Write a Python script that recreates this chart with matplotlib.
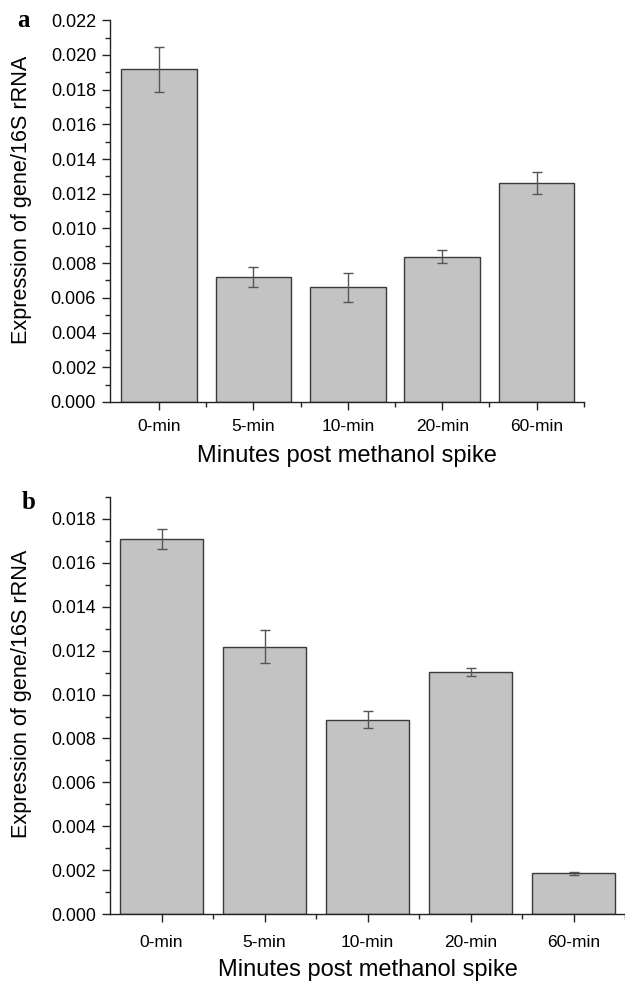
import matplotlib
matplotlib.use("Agg")
import matplotlib.pyplot as plt
from matplotlib.ticker import MultipleLocator, FixedLocator, FormatStrFormatter

plt.rcParams["font.family"] = ["Liberation Sans", "DejaVu Sans"]

# ---------------------------------------------------------------------------
# Data
# ---------------------------------------------------------------------------
categories = ["0-min", "5-min", "10-min", "20-min", "60-min"]

a_values = [0.01918, 0.00722, 0.00662, 0.00837, 0.01262]
a_errors = [0.00130, 0.00057, 0.00084, 0.00038, 0.00062]

b_values = [0.01709, 0.01217, 0.00886, 0.01104, 0.00186]
b_errors = [0.00047, 0.00075, 0.00037, 0.00018, 0.00007]

BAR_COLOR = "#c3c3c3"
EDGE_COLOR = "#3a3a3a"
AXIS_COLOR = "#222222"


def draw_panel(ax, values, errors, ymax, letter, letter_xy, ylabel_x,
               ytick_fs, xtick_pad, xlabel_pad):
    x = list(range(len(categories)))
    ax.bar(x, values, width=0.8, color=BAR_COLOR, edgecolor=EDGE_COLOR,
           linewidth=1.0, zorder=2)
    ax.errorbar(x, values, yerr=errors, fmt="none", ecolor="#555555",
                elinewidth=1.0, capsize=3.5, capthick=1.0, zorder=3)

    ax.set_ylim(0, ymax)
    ax.yaxis.set_major_locator(MultipleLocator(0.002))
    ax.yaxis.set_minor_locator(MultipleLocator(0.001))
    ax.yaxis.set_major_formatter(FormatStrFormatter("%.3f"))
    ax.set_xticks(x)
    ax.set_xticklabels(categories, fontsize=12.5)
    ax.xaxis.set_minor_locator(FixedLocator([i + 0.5 for i in x]))

    for side in ("top", "right"):
        ax.spines[side].set_visible(False)
    for side in ("left", "bottom"):
        ax.spines[side].set_linewidth(1.0)
        ax.spines[side].set_color(AXIS_COLOR)

    ax.tick_params(axis="both", which="major", direction="out", length=6,
                   width=1.0, color=AXIS_COLOR)
    ax.tick_params(axis="both", which="minor", direction="out", length=3.5,
                   width=1.0, color=AXIS_COLOR)
    ax.tick_params(axis="y", labelsize=ytick_fs, pad=4)
    ax.tick_params(axis="x", pad=xtick_pad)

    # label sits a little above the axes centre in the reference
    ax.set_ylabel("Expression of gene/16S rRNA", fontsize=15.6)
    ax.yaxis.set_label_coords(ylabel_x, 0.529)
    ax.set_xlabel("Minutes post methanol spike", fontsize=17,
                  labelpad=xlabel_pad)
    ax.text(letter_xy[0], letter_xy[1], letter, transform=ax.transAxes,
            fontsize=18, fontweight="bold", family="Liberation Serif",
            ha="center", va="center")


fig = plt.figure(figsize=(6.25, 9.84), dpi=100)

ax_a = fig.add_axes([0.176, 0.5915, 0.758, 0.388])
ax_a.set_xlim(-0.52, len(categories) - 0.5)
draw_panel(ax_a, a_values, a_errors, 0.022, "a", (-0.182, 1.0), -0.165,
           13, 6, 8)

ax_b = fig.add_axes([0.176, 0.0711, 0.824, 0.4238])
ax_b.set_xlim(-0.5, len(categories) - 0.5)
draw_panel(ax_b, b_values, b_errors, 0.019, "b", (-0.159, 0.988), -0.151,
           12.7, 9, 6.5)

fig.savefig("out.png", dpi=100)
